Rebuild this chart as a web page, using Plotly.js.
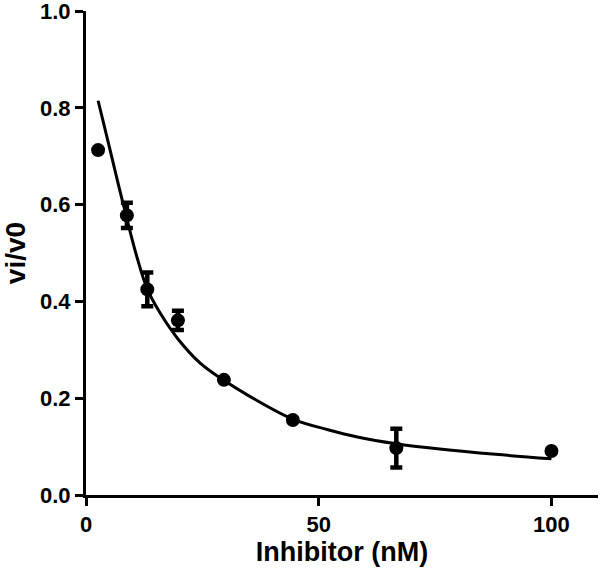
<!DOCTYPE html>
<html>
<head>
<meta charset="utf-8">
<script src="https://cdn.plot.ly/plotly-3.0.1.min.js"></script>
<style>
  html, body { margin: 0; padding: 0; background: #fff; }
  #chart { width: 600px; height: 575px; }
</style>
</head>
<body>
<div id="chart"></div>
<script>
// Measured data points (Inhibitor nM vs vi/v0)
var inhibitor = [2.6, 8.78, 13.17, 19.75, 29.63, 44.44, 66.67, 100];
var vratio    = [0.713, 0.578, 0.425, 0.361, 0.238, 0.155, 0.097, 0.091];
var vratioErr = [0, 0.026, 0.035, 0.020, 0, 0, 0.040, 0];

// Fitted curve
var fitX = [2.6, 4, 5.5, 7, 8.8, 11, 13.2, 16, 19.8, 24.6, 29.6, 35, 44.4, 52, 58.3, 66.6, 76, 88, 100];
var fitY = [0.815, 0.76, 0.70, 0.64, 0.57, 0.49, 0.425, 0.375, 0.322, 0.272, 0.237, 0.205, 0.157, 0.135, 0.12, 0.106, 0.095, 0.084, 0.075];

var xTicks = [0, 50, 100];
var yTicks = [0, 0.2, 0.4, 0.6, 0.8, 1.0];
var yTickText = ['0.0', '0.2', '0.4', '0.6', '0.8', '1.0'];

var fontFam = 'Liberation Sans, Arial, sans-serif';

var traces = [
  {
    x: fitX, y: fitY, type: 'scatter', mode: 'lines',
    line: {color: '#000', width: 3, shape: 'spline', smoothing: 1},
    hoverinfo: 'skip', showlegend: false
  },
  {
    x: inhibitor, y: vratio, type: 'scatter', mode: 'markers',
    marker: {color: '#000', size: 14, symbol: 'circle'},
    error_y: {type: 'data', array: vratioErr, visible: true, color: '#000', thickness: 4.5, width: 6},
    showlegend: false,
    cliponaxis: false
  }
];

var layout = {
  width: 600, height: 575,
  margin: {l: 86, r: 2, t: 11, b: 80},
  paper_bgcolor: '#fff', plot_bgcolor: '#fff',
  font: {family: fontFam, color: '#000'},
  xaxis: {
    range: [0, 110],
    tickvals: xTicks,
    ticktext: xTicks.map(String),
    ticks: 'outside', ticklen: 8, tickwidth: 3, tickcolor: '#000',
    showline: true, linewidth: 3, linecolor: '#000',
    showgrid: false, zeroline: false,
    ticklabeloverflow: 'allow',
    tickfont: {family: fontFam, size: 22, color: '#000', weight: 'bold'},
    title: {text: '<b>Inhibitor (nM)</b>', font: {family: fontFam, size: 27, color: '#000'}, standoff: 6}
  },
  yaxis: {
    range: [0, 1.0005],
    tickvals: yTicks,
    ticktext: yTickText,
    ticks: 'outside', ticklen: 8, tickwidth: 3, tickcolor: '#000',
    showline: true, linewidth: 3, linecolor: '#000',
    showgrid: false, zeroline: false,
    ticklabeloverflow: 'allow',
    tickfont: {family: fontFam, size: 22, color: '#000', weight: 'bold'},
    title: {text: '<b>vi/v0</b>', font: {family: fontFam, size: 28, color: '#000'}, standoff: 10}
  }
};

Plotly.newPlot('chart', traces, layout, {displayModeBar: false, staticPlot: true});
</script>
</body>
</html>
